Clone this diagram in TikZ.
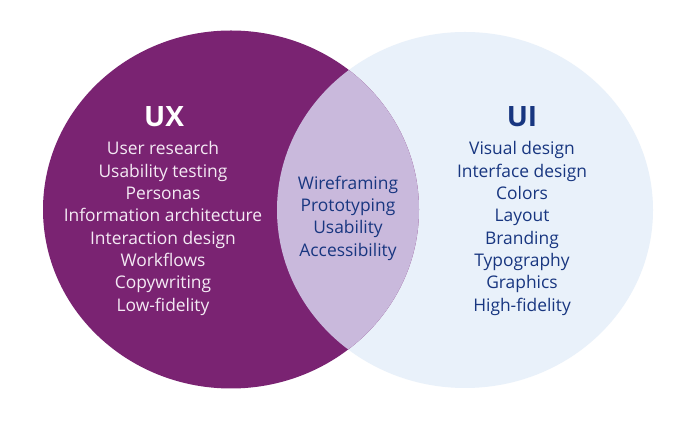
\documentclass[tikz,border=0pt]{standalone}
\usepackage{fontspec}
\setmainfont{Open Sans}
\usepackage{tikz}
\definecolor{uxpurple}{RGB}{122,35,114}
\definecolor{lenslilac}{RGB}{201,185,220}
\definecolor{uiblue}{RGB}{233,241,250}
\definecolor{textblue}{RGB}{24,54,128}
\definecolor{textpale}{RGB}{244,234,244}
\tikzset{
	title/.style={font=\fontsize{28}{30}\selectfont\bfseries, inner sep=0},
	items/.style={font=\fontsize{17.4}{22.3}\selectfont, align=center, inner sep=0}
}

\begin{document}
\begin{tikzpicture}[x=1pt, y=1pt]
		%%%%% START %%%%%
		
		\useasboundingbox[fill=white] (0, 0) rectangle (700, 422);
		
		\fill[uiblue] (465, 212) ellipse (188 and 178);
		\fill[uxpurple] (231, 212.5) ellipse (188 and 179);
		\begin{scope}
			\clip (231, 212.5) ellipse (188 and 179);
			\fill[lenslilac] (465, 212) ellipse (188 and 178);
		\end{scope}
		
		\node[title, color=white] (ux) at (164, 305.5) {UX};
		\node[items, color=textpale] (uxlist) at (163, 193.5) {User research\\Usability testing\\Personas\\Information architecture\\Interaction design\\Workflows\\Copywriting\\Low-fidelity};
		
		\node[items, color=textblue] (both) at (348, 204) {Wireframing\\Prototyping\\Usability\\Accessibility};
		
		\node[title, color=textblue] (ui) at (522, 305.5) {UI};
		\node[items, color=textblue] (uilist) at (522, 193.5) {Visual design\\Interface design\\Colors\\Layout\\Branding\\Typography\\Graphics\\High-fidelity};
		
		%%%%% END %%%%%
	\end{tikzpicture}
\end{document}
